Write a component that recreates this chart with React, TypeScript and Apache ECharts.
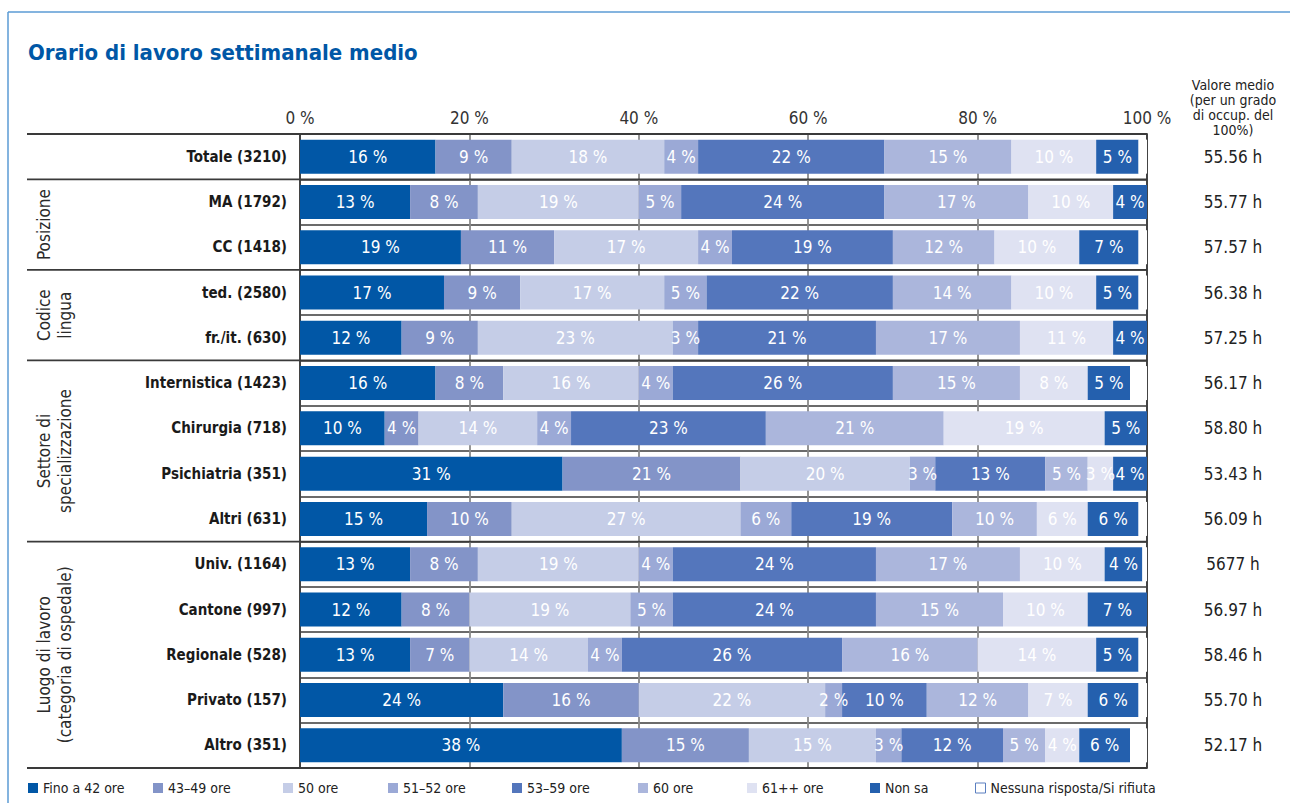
import React, { useEffect, useRef } from "react";
import * as echarts from "echarts";

const FONT = "'Liberation Sans Narrow', 'DejaVu Sans Condensed', 'Roboto', sans-serif";

const categories = [
  "Totale (3210)",
  "MA (1792)",
  "CC (1418)",
  "ted. (2580)",
  "fr./it. (630)",
  "Internistica (1423)",
  "Chirurgia (718)",
  "Psichiatria (351)",
  "Altri (631)",
  "Univ. (1164)",
  "Cantone (997)",
  "Regionale (528)",
  "Privato (157)",
  "Altro (351)",
];

const meanLabels = [
  "55.56 h", "55.77 h", "57.57 h", "56.38 h", "57.25 h", "56.17 h", "58.80 h",
  "53.43 h", "56.09 h", "5677 h", "56.97 h", "58.46 h", "55.70 h", "52.17 h",
];

const fino42 = [16, 13, 19, 17, 12, 16, 10, 31, 15, 13, 12, 13, 24, 38];
const h43_49 = [9, 8, 11, 9, 9, 8, 4, 21, 10, 8, 8, 7, 16, 15];
const h50 = [18, 19, 17, 17, 23, 16, 14, 20, 27, 19, 19, 14, 22, 15];
const h51_52 = [4, 5, 4, 5, 3, 4, 4, 3, 6, 4, 5, 4, 2, 3];
const h53_59 = [22, 24, 19, 22, 21, 26, 23, 13, 19, 24, 24, 26, 10, 12];
const h60 = [15, 17, 12, 14, 17, 15, 21, 5, 10, 17, 15, 16, 12, 5];
const h61 = [10, 10, 10, 10, 11, 8, 19, 3, 6, 10, 10, 14, 7, 4];
const nonSa = [5, 4, 7, 5, 4, 5, 5, 4, 6, 4.45, 7, 5, 6, 6];
const nessuna = [1, 0, 1, 1, 0, 2, 0, 0, 1, 0.55, 0, 1, 1, 2];

const xTicks = [0, 20, 40, 60, 80, 100];

const seriesDefs = [
  { name: "Fino a 42 ore", data: fino42, color: "#0157a6" },
  { name: "43–49 ore", data: h43_49, color: "#8394c8" },
  { name: "50 ore", data: h50, color: "#c5cde7" },
  { name: "51–52 ore", data: h51_52, color: "#9ba9d6" },
  { name: "53–59 ore", data: h53_59, color: "#5476bc" },
  { name: "60 ore", data: h60, color: "#abb6dc" },
  { name: "61++ ore", data: h61, color: "#dfe2f2" },
  { name: "Non sa", data: nonSa, color: "#2460ae" },
  { name: "Nessuna risposta/Si rifiuta", data: nessuna, color: "#ffffff" },
];

const groups = [
  { label: "Posizione", start: 1, end: 3 },
  { label: "Codice\nlingua", start: 3, end: 5 },
  { label: "Settore di\nspecializzazione", start: 5, end: 9 },
  { label: "Luogo di lavoro\n(categoria di ospedale)", start: 9, end: 14 },
];
const groupBounds = [0, 1, 3, 5, 9, 14];

const legendLefts = [28, 153, 283, 388, 512, 638, 747, 870, 975];

const GRID_LEFT = 300;
const GRID_RIGHT_X = 1147;
const GRID_TOP = 134;
const GRID_BOTTOM_Y = 768;
const W = 1290;
const H = 803;

export default function App() {
  const ref = useRef<HTMLDivElement>(null);

  useEffect(() => {
    if (!ref.current) return;
    document.body.style.margin = "0";
    const chart = echarts.init(ref.current, undefined, { renderer: "svg" });
    const rowH = (GRID_BOTTOM_Y - GRID_TOP) / categories.length;

    const graphic: any[] = [];
    graphic.push({
      type: "line",
      shape: { x1: 8, y1: 12, x2: W, y2: 12 },
      style: { stroke: "#5b9bd5", lineWidth: 1.5 },
      silent: true,
    });
    graphic.push({
      type: "line",
      shape: { x1: 8, y1: 12, x2: 8, y2: H },
      style: { stroke: "#5b9bd5", lineWidth: 1.5 },
      silent: true,
    });
    groupBounds.forEach((b) => {
      const y = GRID_TOP + b * rowH;
      graphic.push({
        type: "line",
        shape: { x1: 27, y1: y, x2: GRID_RIGHT_X, y2: y },
        style: { stroke: "#3a3a3a", lineWidth: 1.8 },
        silent: true,
        z: 10,
      });
    });
    groups.forEach((g) => {
      const cy = GRID_TOP + ((g.start + g.end) / 2) * rowH;
      const lines = g.label.split("\n").length;
      graphic.push({
        type: "text",
        x: lines === 1 ? 44 : 54,
        y: cy,
        rotation: Math.PI / 2,
        style: {
          text: g.label,
          fontFamily: FONT,
          fontSize: 17,
          lineHeight: 21,
          fill: "#2a2a2a",
          align: "center",
          verticalAlign: "middle",
        },
        silent: true,
      });
    });
    graphic.push({
      type: "text",
      x: 1233,
      y: 77,
      style: {
        text: "Valore medio\n(per un grado\ndi occup. del\n100%)",
        fontFamily: FONT,
        fontSize: 14,
        lineHeight: 15,
        fill: "#222",
        align: "center",
        verticalAlign: "top",
      },
      silent: true,
    });

    const legends = seriesDefs.map((s, i) => ({
      data: [
        s.name === "Nessuna risposta/Si rifiuta"
          ? { name: s.name, itemStyle: { color: "#fff", borderColor: "#5a7fc0", borderWidth: 1 } }
          : { name: s.name },
      ],
      left: legendLefts[i],
      top: 781,
      padding: 0,
      icon: "rect",
      itemWidth: 10,
      itemHeight: 10,
      selectedMode: false,
      textStyle: { fontSize: 14, color: "#222", fontFamily: FONT },
    }));

    const series = seriesDefs.map((s) => ({
      name: s.name,
      type: "bar",
      stack: "total",
      barWidth: 34,
      data: s.data,
      itemStyle: { color: s.color },
      label: {
        show: s.name !== "Nessuna risposta/Si rifiuta",
        position: "inside",
        color: "#ffffff",
        fontSize: 17,
        fontFamily: FONT,
        formatter: (p: any) => `${Math.round(p.value)} %`,
      },
    }));

    chart.setOption({
      animation: false,
      backgroundColor: "#ffffff",
      textStyle: { fontFamily: FONT },
      title: {
        text: "Orario di lavoro settimanale medio",
        left: 23,
        top: 36,
        textStyle: { fontFamily: FONT, fontSize: 22, fontWeight: "bold", color: "#0057a6" },
      },
      legend: legends,
      grid: {
        left: GRID_LEFT,
        right: W - GRID_RIGHT_X,
        top: GRID_TOP,
        bottom: H - GRID_BOTTOM_Y,
        containLabel: false,
      },
      xAxis: {
        type: "value",
        position: "top",
        min: xTicks[0],
        max: xTicks[xTicks.length - 1],
        interval: xTicks[1] - xTicks[0],
        axisLine: { show: false },
        axisTick: { show: false },
        axisLabel: {
          formatter: "{value} %",
          fontSize: 17,
          color: "#333",
          margin: 8,
          fontFamily: FONT,
        },
        splitLine: { show: true, lineStyle: { color: "#8a8a8a", width: 1.8 } },
      },
      yAxis: [
        {
          type: "category",
          inverse: true,
          data: categories,
          axisLine: { show: true, lineStyle: { color: "#3a3a3a", width: 1.8 } },
          axisTick: { show: false },
          axisLabel: {
            fontSize: 15,
            fontWeight: "bold",
            color: "#1a1a1a",
            margin: 13,
            fontFamily: FONT,
          },
          splitLine: { show: true, interval: 0, lineStyle: { color: "#3a3a3a", width: 1.5 } },
        },
        {
          type: "category",
          inverse: true,
          position: "right",
          data: meanLabels,
          axisLine: { show: true, lineStyle: { color: "#3a3a3a", width: 1.8 } },
          axisTick: { show: false },
          axisLabel: {
            fontSize: 17,
            color: "#222",
            margin: 86,
            align: "center",
            fontFamily: FONT,
          },
          splitLine: { show: false },
        },
      ],
      series,
      graphic,
    });

    return () => chart.dispose();
  }, []);

  return (
    <div
      ref={ref}
      style={{ position: "fixed", left: 0, top: 0, width: W, height: H, background: "#fff" }}
    />
  );
}
